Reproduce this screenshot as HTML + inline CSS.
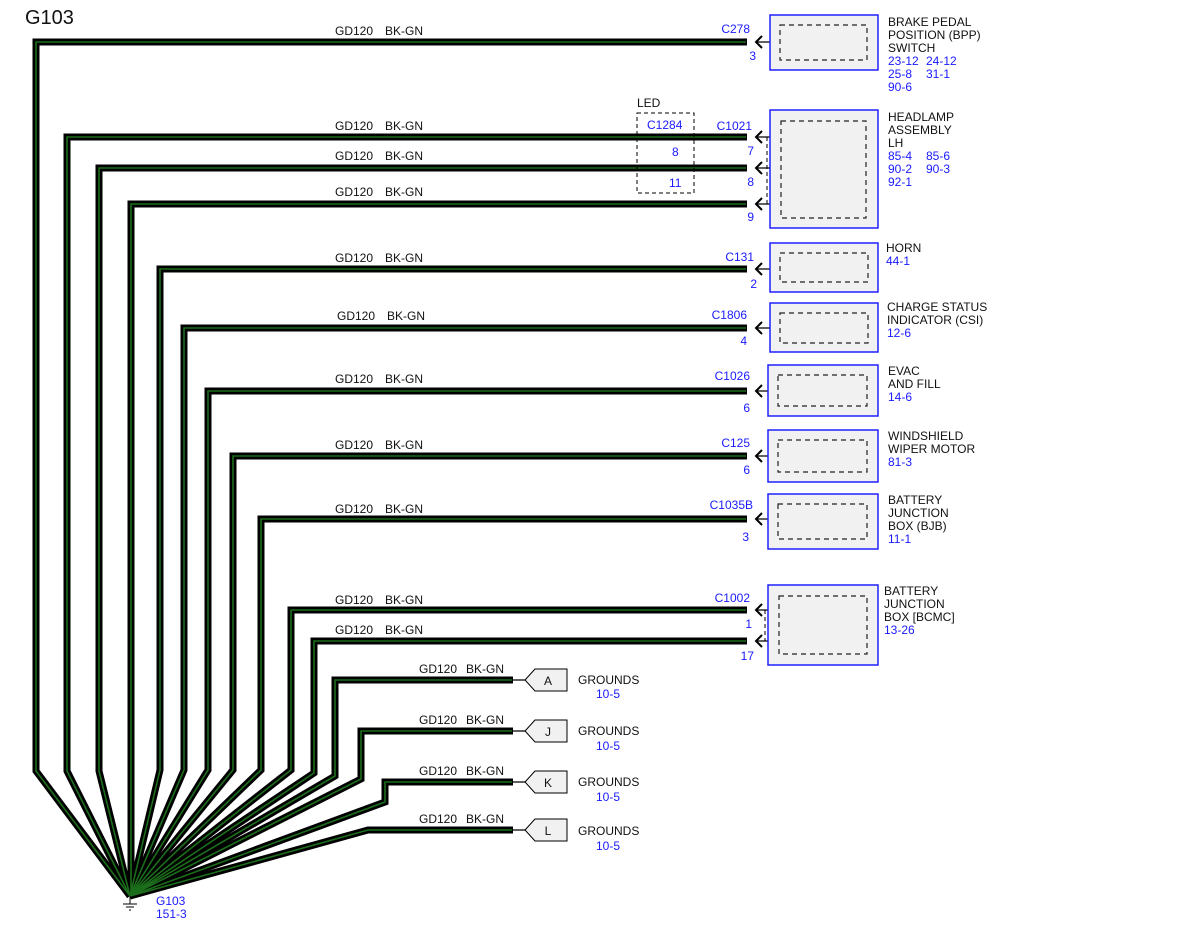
<!DOCTYPE html>
<html><head><meta charset="utf-8"><style>
body{margin:0;background:#fff}
svg text{font-family:"Liberation Sans",sans-serif;font-size:12px}
.b{fill:#1a1aff}.k{fill:#111}
</style></head><body>
<svg width="1200" height="927" xmlns="http://www.w3.org/2000/svg">
<text x="25" y="24" style="font-size:20px" class="k">G103</text>
<g fill="none" stroke-linejoin="miter">
<g stroke="#000" stroke-width="7">
<polyline points="747,42 36,42 36,771 130,896"/>
<polyline points="747,137 67,137 67,771 130,896"/>
<polyline points="747,168 99,168 99,771 130,896"/>
<polyline points="747,204 131,204 131,896"/>
<polyline points="747,269 160,269 160,770 130,896"/>
<polyline points="747,328 184,328 184,770 130,896"/>
<polyline points="747,391 208,391 208,770 130,896"/>
<polyline points="747,456 233,456 233,770 130,896"/>
<polyline points="747,519 261,519 261,770 130,896"/>
<polyline points="747,610 291,610 291,770 130,896"/>
<polyline points="747,641 314,641 314,773 130,896"/>
<polyline points="513,680 335,680 335,776 130,896"/>
<polyline points="513,731 361,731 361,779 130,896"/>
<polyline points="513,782 385,782 385,802 130,896"/>
<polyline points="513,830 368,830 130,896"/>
</g>
<g stroke="#1b6e1b" stroke-width="1.6">
<polyline points="746,42 36,42 36,771 130,896"/>
<polyline points="746,137 67,137 67,771 130,896"/>
<polyline points="746,168 99,168 99,771 130,896"/>
<polyline points="746,204 131,204 131,896"/>
<polyline points="746,269 160,269 160,770 130,896"/>
<polyline points="746,328 184,328 184,770 130,896"/>
<polyline points="746,391 208,391 208,770 130,896"/>
<polyline points="746,456 233,456 233,770 130,896"/>
<polyline points="746,519 261,519 261,770 130,896"/>
<polyline points="746,610 291,610 291,770 130,896"/>
<polyline points="746,641 314,641 314,773 130,896"/>
<polyline points="512,680 335,680 335,776 130,896"/>
<polyline points="512,731 361,731 361,779 130,896"/>
<polyline points="512,782 385,782 385,802 130,896"/>
<polyline points="512,830 368,830 130,896"/>
</g>
</g>
<g stroke="#000" stroke-width="1"><line x1="130" y1="896" x2="130" y2="904"/><line x1="123" y1="904" x2="137" y2="904"/><line x1="126" y1="907" x2="134" y2="907"/><line x1="129" y1="910" x2="131" y2="910"/></g>
<text x="156" y="905" class="b">G103</text><text x="156" y="918" class="b">151-3</text>
<g class="k">
<text x="335" y="35">GD120</text><text x="385" y="35">BK-GN</text>
<text x="335" y="130">GD120</text><text x="385" y="130">BK-GN</text>
<text x="335" y="160">GD120</text><text x="385" y="160">BK-GN</text>
<text x="335" y="196">GD120</text><text x="385" y="196">BK-GN</text>
<text x="335" y="262">GD120</text><text x="385" y="262">BK-GN</text>
<text x="337" y="320">GD120</text><text x="387" y="320">BK-GN</text>
<text x="335" y="383">GD120</text><text x="385" y="383">BK-GN</text>
<text x="335" y="449">GD120</text><text x="385" y="449">BK-GN</text>
<text x="335" y="513">GD120</text><text x="385" y="513">BK-GN</text>
<text x="335" y="604">GD120</text><text x="385" y="604">BK-GN</text>
<text x="335" y="634">GD120</text><text x="385" y="634">BK-GN</text>
<text x="419" y="673">GD120</text><text x="466" y="673">BK-GN</text>
<text x="419" y="724">GD120</text><text x="466" y="724">BK-GN</text>
<text x="419" y="775">GD120</text><text x="466" y="775">BK-GN</text>
<text x="419" y="823">GD120</text><text x="466" y="823">BK-GN</text>
</g>
<g stroke="#000" stroke-width="2" fill="none">
<path d="M762,36 L756,42 L762,48"/><path d="M762,131 L756,137 L762,143"/><path d="M762,162 L756,168 L762,174"/><path d="M762,198 L756,204 L762,210"/><path d="M762,263 L756,269 L762,275"/><path d="M762,322 L756,328 L762,334"/><path d="M762,385 L756,391 L762,397"/><path d="M762,450 L756,456 L762,462"/><path d="M762,513 L756,519 L762,525"/><path d="M762,604 L756,610 L762,616"/><path d="M762,635 L756,641 L762,647"/>
</g>
<g stroke="#000" stroke-width="1.2" fill="none">
<path d="M756,42 H780 V34 M756,137 H780 M756,168 H780 M756,204 H780 M756,269 H780 M756,328 H780 M756,391 H780 M756,456 H780 M756,519 H780 M756,610 H780 M756,641 H780"/>
<path d="M513,680 H525 M513,731 H525 M513,782 H525 M513,830 H525"/>
</g>
<g stroke="#000" stroke-width="1" stroke-dasharray="4,3" fill="none">
<line x1="767" y1="137" x2="767" y2="204"/><line x1="765" y1="610" x2="765" y2="641"/>
<rect x="637" y="113" width="57" height="80"/>
</g>
<text x="637" y="107" class="k">LED</text>
<text x="647" y="129" class="b">C1284</text><text x="672" y="156" class="b">8</text><text x="669" y="187" class="b">11</text>
<g fill="#f1f1f1" stroke="#2020ff" stroke-width="1.5">
<rect x="770" y="15" width="108" height="55"/>
<rect x="770" y="110" width="108" height="118"/>
<rect x="770" y="243" width="108" height="49"/>
<rect x="770" y="303" width="108" height="49"/>
<rect x="768" y="365" width="110" height="51"/>
<rect x="768" y="430" width="110" height="52"/>
<rect x="768" y="494" width="110" height="55"/>
<rect x="768" y="585" width="110" height="80"/>
</g>
<g fill="none" stroke="#222" stroke-width="1.2" stroke-dasharray="5,4">
<rect x="780" y="25" width="87" height="35"/>
<rect x="781" y="121" width="85" height="97"/>
<rect x="780" y="253" width="88" height="29"/>
<rect x="780" y="313" width="88" height="30"/>
<rect x="778" y="375" width="89" height="31"/>
<rect x="778" y="440" width="89" height="32"/>
<rect x="778" y="504" width="89" height="35"/>
<rect x="779" y="596" width="88" height="58"/>
</g>
<g fill="#f1f1f1" stroke="#000" stroke-width="1">
<path d="M525,680 L535,669 H567 V691 H535 Z"/>
<path d="M525,731 L535,720 H567 V742 H535 Z"/>
<path d="M525,782 L535,771 H567 V793 H535 Z"/>
<path d="M525,830 L535,819 H567 V841 H535 Z"/>
</g>
<g class="k" text-anchor="middle"><text x="548" y="685">A</text><text x="548" y="736">J</text><text x="548" y="787">K</text><text x="548" y="835">L</text></g>
<g class="k"><text x="578" y="684">GROUNDS</text><text x="578" y="735">GROUNDS</text><text x="578" y="786">GROUNDS</text><text x="578" y="835">GROUNDS</text></g>
<g class="b"><text x="596" y="698">10-5</text><text x="596" y="750">10-5</text><text x="596" y="801">10-5</text><text x="596" y="850">10-5</text></g>
<g class="b" text-anchor="end">
<text x="750" y="33">C278</text><text x="756" y="60">3</text>
<text x="752" y="130">C1021</text><text x="754" y="155">7</text><text x="754" y="186">8</text><text x="754" y="221">9</text>
<text x="754" y="261">C131</text><text x="757" y="288">2</text>
<text x="747" y="319">C1806</text><text x="747" y="345">4</text>
<text x="750" y="380">C1026</text><text x="750" y="412">6</text>
<text x="750" y="447">C125</text><text x="750" y="474">6</text>
<text x="753" y="509">C1035B</text><text x="749" y="541">3</text>
<text x="750" y="602">C1002</text><text x="752" y="628">1</text><text x="754" y="660">17</text>
</g>
<g class="k">
<text x="888" y="26">BRAKE PEDAL</text><text x="888" y="39">POSITION (BPP)</text><text x="888" y="52">SWITCH</text>
<text x="888" y="121">HEADLAMP</text><text x="888" y="134">ASSEMBLY</text><text x="888" y="147">LH</text>
<text x="886" y="252">HORN</text>
<text x="887" y="311">CHARGE STATUS</text><text x="887" y="324">INDICATOR (CSI)</text>
<text x="888" y="375">EVAC</text><text x="888" y="388">AND FILL</text>
<text x="888" y="440">WINDSHIELD</text><text x="888" y="453">WIPER MOTOR</text>
<text x="888" y="504">BATTERY</text><text x="888" y="517">JUNCTION</text><text x="888" y="530">BOX (BJB)</text>
<text x="884" y="595">BATTERY</text><text x="884" y="608">JUNCTION</text><text x="884" y="621">BOX [BCMC]</text>
</g>
<g class="b">
<text x="888" y="65">23-12</text><text x="926" y="65">24-12</text><text x="888" y="78">25-8</text><text x="926" y="78">31-1</text><text x="888" y="91">90-6</text>
<text x="888" y="160">85-4</text><text x="926" y="160">85-6</text><text x="888" y="173">90-2</text><text x="926" y="173">90-3</text><text x="888" y="186">92-1</text>
<text x="886" y="265">44-1</text>
<text x="887" y="337">12-6</text>
<text x="888" y="401">14-6</text>
<text x="888" y="466">81-3</text>
<text x="888" y="543">11-1</text>
<text x="884" y="634">13-26</text>
</g>
</svg>
</body></html>
